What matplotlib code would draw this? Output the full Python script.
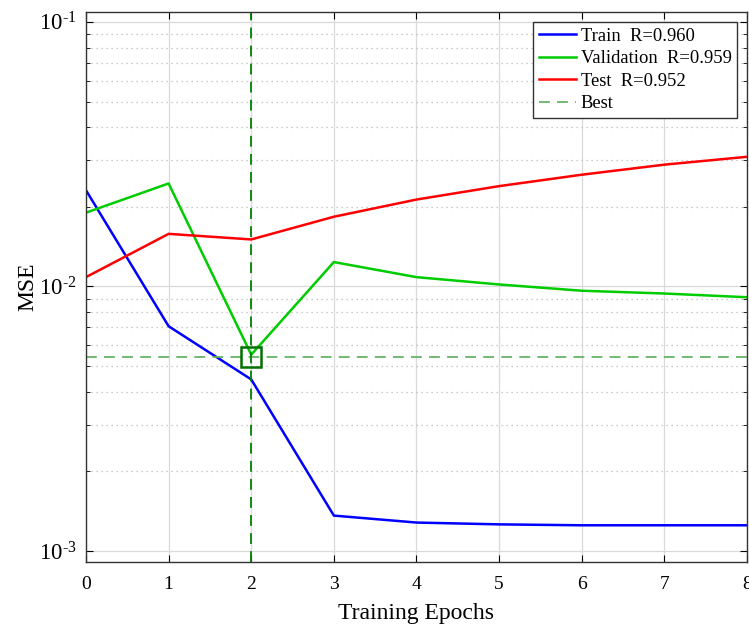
import matplotlib
matplotlib.use('Agg')
import matplotlib.pyplot as plt
from matplotlib.ticker import LogLocator, NullFormatter, FuncFormatter
import numpy as np

plt.rcParams['font.family'] = ['Liberation Serif', 'DejaVu Serif']
plt.rcParams['mathtext.fontset'] = 'custom'
plt.rcParams['mathtext.rm'] = 'Liberation Serif'
plt.rcParams['mathtext.it'] = 'Liberation Serif:italic'

# Data
epochs = [0, 1, 2, 3, 4, 5, 6, 7, 8]
train_mse = [0.0231, 0.00707, 0.00445, 0.00136, 0.00128, 0.00126, 0.00125, 0.00125, 0.00125]
val_mse = [0.0190, 0.0245, 0.00552, 0.01236, 0.01084, 0.01017, 0.00963, 0.0094, 0.0091]
test_mse = [0.01084, 0.0158, 0.01505, 0.01834, 0.0213, 0.02394, 0.02644, 0.02886, 0.0309]
labels = ['Train  R=0.960', 'Validation  R=0.959', 'Test  R=0.952']
best_epoch = 2
best_mse = 0.0054

fig = plt.figure(figsize=(7.49, 6.25), dpi=100)
ax = fig.add_axes([0.1148, 0.1008, 0.8825, 0.88])

ax.plot(epochs, train_mse, color='#0000ff', lw=1.8, label=labels[0])
ax.plot(epochs, val_mse, color='#00cc00', lw=1.8, label=labels[1])
ax.plot(epochs, test_mse, color='#ff0000', lw=1.8, label=labels[2])
ax.axhline(best_mse, color='#66b366', ls=(0, (6, 4)), lw=1.3, label='Best')
ax.axvline(best_epoch, color='#008000', ls=(0, (6, 4)), lw=1.3)
ax.plot(best_epoch, best_mse, marker='s', ms=14, mfc='none', mec='#007000', mew=1.8)

ax.set_yscale('log')
ax.set_xlim(0, 8)
ax.set_ylim(9.08e-4, 0.109)
ax.set_xticks(epochs)
ax.yaxis.set_major_locator(LogLocator(base=10, numticks=10))
ax.yaxis.set_major_formatter(FuncFormatter(
    lambda v, pos: r'$\mathrm{10}^{\text{-%d}}$' % round(-np.log10(v))))
ax.yaxis.set_minor_locator(LogLocator(base=10, subs=np.arange(2, 10), numticks=10))
ax.yaxis.set_minor_formatter(NullFormatter())

ax.grid(True, which='major', color='#d9d9d9', lw=0.9, ls='-')
ax.grid(True, which='minor', axis='y', color='#bbbbbb', lw=0.9, ls=(0, (1, 3)))
ax.set_axisbelow(True)

ax.tick_params(which='both', direction='in', top=True, right=True, labelsize=14)
ax.tick_params(axis='x', pad=10)
ax.tick_params(axis='y', pad=7, labelsize=16.5)
ax.tick_params(which='major', length=5)
ax.tick_params(which='minor', length=3)
for s in ax.spines.values():
    s.set_color('#333333')
    s.set_linewidth(1.0)

ax.set_xlabel('Training Epochs', fontsize=17, labelpad=7)
ax.set_ylabel('MSE', fontsize=17, labelpad=0)

leg = ax.legend(loc='upper right', fontsize=13.4, frameon=True, fancybox=False,
                edgecolor='#333333', framealpha=1, handlelength=2.0,
                handletextpad=0.25, borderpad=0.3, labelspacing=0.3,
                borderaxespad=0, bbox_to_anchor=(0.985, 0.982))
leg.get_frame().set_linewidth(1.0)

fig.savefig('out.png', dpi=100)
